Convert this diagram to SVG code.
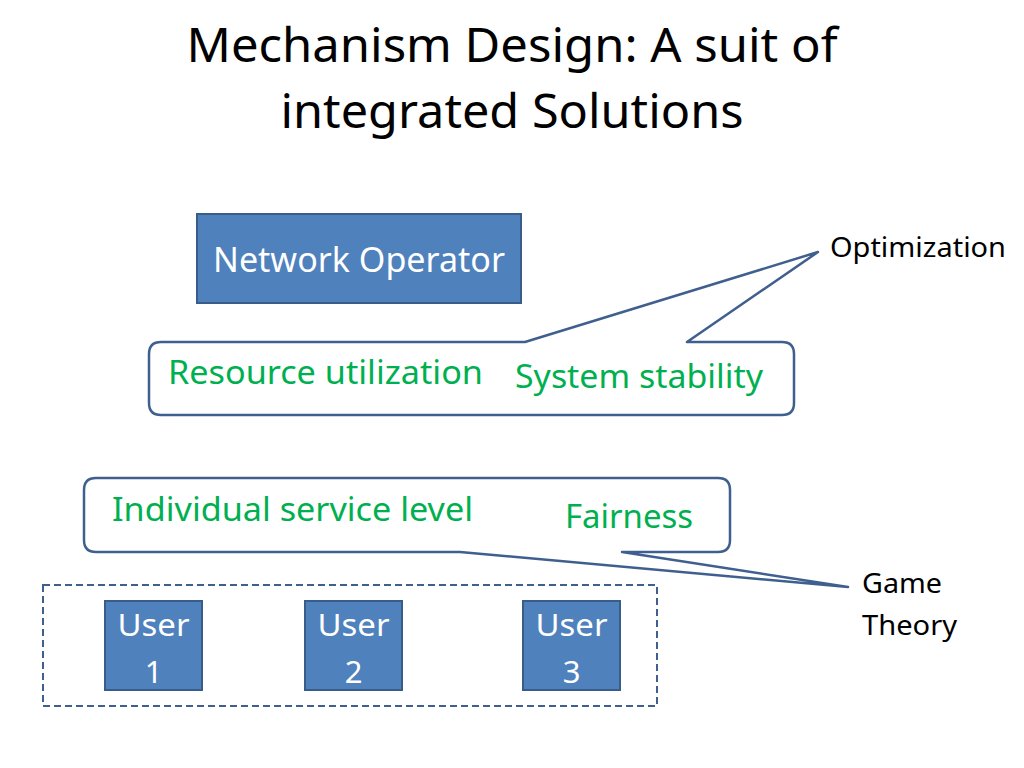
<svg xmlns="http://www.w3.org/2000/svg" width="1024" height="768" viewBox="0 0 1024 768">
<style>
text{font-family:"Noto Sans","Open Sans","Liberation Sans",sans-serif}
.title{font-size:47px;fill:#000;text-anchor:middle}
.box{fill:#4F81BD;stroke:#385D8A;stroke-width:2}
.wt{fill:#fff;font-size:31px;text-anchor:middle}
.gt{fill:#00B050;font-size:33px}
.bt{fill:#000;font-size:28px}
.call{fill:#fff;stroke:#3F5F8F;stroke-width:2.5;stroke-linejoin:round}
</style>
<rect width="1024" height="768" fill="#fff"/>
<g id="title">
<text class="title" x="512" y="62" textLength="651" lengthAdjust="spacingAndGlyphs">Mechanism Design: A suit of</text>
<text class="title" x="512" y="128" textLength="463" lengthAdjust="spacingAndGlyphs">integrated Solutions</text>
</g>
<g id="network-operator">
<rect class="box" x="197" y="214" width="324" height="89"/>
<text class="wt" x="359" y="272" style="font-size:34px" textLength="292" lengthAdjust="spacingAndGlyphs">Network Operator</text>
</g>
<g id="connectors">
<path id="callout-operator" class="call" d="M161,342 H525 L818,252 L687,342 H782 Q794,342 794,354 V403 Q794,415 782,415 H161 Q149,415 149,403 V354 Q149,342 161,342 Z"/>
<path id="callout-users" class="call" d="M96,478 H718 Q730,478 730,490 V540 Q730,552 718,552 H622 L848,587 L460,552 H96 Q84,552 84,540 V490 Q84,478 96,478 Z"/>
</g>
<g id="operator-goals">
<text class="gt" x="168" y="384" textLength="315" lengthAdjust="spacingAndGlyphs">Resource utilization</text>
<text class="gt" x="515" y="388" textLength="248" lengthAdjust="spacingAndGlyphs">System stability</text>
</g>
<g id="optimization">
<text class="bt" x="830" y="257" textLength="176" lengthAdjust="spacingAndGlyphs">Optimization</text>
</g>
<g id="user-goals">
<text class="gt" x="112" y="521" textLength="361" lengthAdjust="spacingAndGlyphs">Individual service level</text>
<text class="gt" x="565" y="528" textLength="128" lengthAdjust="spacingAndGlyphs">Fairness</text>
</g>
<g id="game-theory">
<text class="bt" x="862" y="593" textLength="80" lengthAdjust="spacingAndGlyphs">Game</text>
<text class="bt" x="862" y="635" textLength="95" lengthAdjust="spacingAndGlyphs">Theory</text>
</g>
<g id="users-group">
<rect x="43" y="585" width="614" height="121" fill="none" stroke="#3F5F8F" stroke-width="2" stroke-dasharray="7,4"/>
</g>
<g id="user1">
<rect class="box" x="105" y="601" width="97" height="89"/>
<text class="wt" x="153.5" y="636" textLength="72" lengthAdjust="spacingAndGlyphs">User</text>
<text class="wt" x="153.5" y="683">1</text>
</g>
<g id="user2">
<rect class="box" x="305" y="601" width="97" height="89"/>
<text class="wt" x="353.5" y="636" textLength="72" lengthAdjust="spacingAndGlyphs">User</text>
<text class="wt" x="353.5" y="683">2</text>
</g>
<g id="user3">
<rect class="box" x="523" y="601" width="97" height="89"/>
<text class="wt" x="571.5" y="636" textLength="72" lengthAdjust="spacingAndGlyphs">User</text>
<text class="wt" x="571.5" y="683">3</text>
</g>
</svg>
